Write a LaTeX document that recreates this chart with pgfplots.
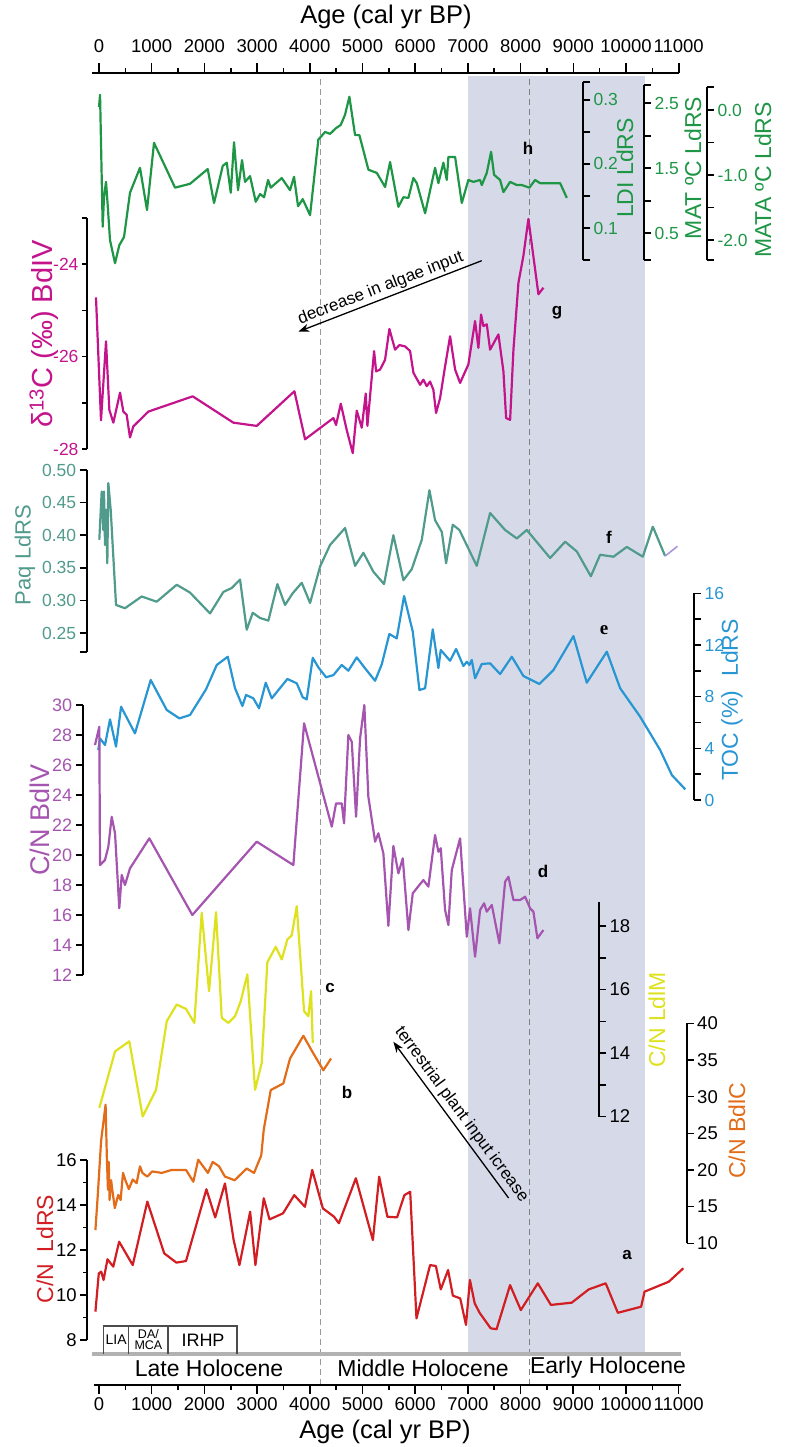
\documentclass[border=0pt]{standalone}
\usepackage{pgfplots}
\pgfplotsset{compat=1.18}
\usepackage{fontspec}
\setmainfont{Liberation Sans}
\newfontfamily\seriffont{Liberation Serif}
\usetikzlibrary{arrows.meta}

\definecolor{cgreen}{RGB}{30,150,70}
\definecolor{cmag}{RGB}{196,20,140}
\definecolor{cteal}{RGB}{80,155,140}
\definecolor{cblue}{RGB}{40,150,210}
\definecolor{cpurp}{RGB}{165,85,175}
\definecolor{cyell}{RGB}{222,226,30}
\definecolor{corng}{RGB}{226,108,24}
\definecolor{cred}{RGB}{210,30,35}
\definecolor{cshade}{RGB}{214,218,232}
\definecolor{clav}{RGB}{170,150,220}

\newcommand{\fs}[1]{\fontsize{#1}{#1}\selectfont}

\pgfplotsset{
  every axis/.append style={scale only axis, clip=false, enlargelimits=false},
  dat/.style={hide axis, xmin=0, xmax=11000, width=579.7pt, anchor=south west},
  sc/.style={width=1pt, xmin=0, xmax=1, axis x line=none,
     tick align=outside, major tick length=7pt, minor tick length=7pt,
     tick style={black, line width=1.6pt},
     axis line style={black, line width=2pt},
     yticklabel style={font=\fs{17.5}}},
  lsc/.style={sc, axis y line*=left, anchor=south west},
  rsc/.style={sc, axis y line*=right, anchor=south east},
  curve/.style={line width=2.2pt, line join=round, mark=none},
}

\begin{document}
\begin{tikzpicture}
\useasboundingbox (0pt,0pt) rectangle (787pt,-1447pt);

% background: shading and dashed lines
\begin{axis}[dat, at={(99pt,-1385pt)}, height=1312pt, ymin=-1385, ymax=-73]
\addplot[fill=cshade, draw=none] coordinates {(7000,-1354) (10360,-1354) (10360,-76) (7000,-76)} -- cycle;
\addplot[draw=black!40, dash pattern=on 6pt off 4pt, line width=1.4pt] coordinates {(4200,-1385) (4200,-77)};
\addplot[draw=black!50, dash pattern=on 6pt off 4pt, line width=1pt] coordinates {(8170,-1385) (8170,-77)};
\end{axis}

% top axis
\begin{axis}[at={(91.6pt,-73pt)}, anchor=north west, width=587.1pt, height=1pt,
  xmin=-140, xmax=11000, ymin=0, ymax=1, axis y line=none, axis x line*=top,
  scaled x ticks=false,
  xtick={0,1000,2000,3000,4000,5000,6000,7000,8000,9000,10000,11000},
  xticklabels={0,1000,2000,3000,4000,5000,6000,7000,8000,9000,10000,11000},
  minor xtick={500,1500,2500,3500,4500,5500,6500,7500,8500,9500,10500},
  tick align=outside, major tick length=10pt, minor tick length=5pt,
  tick style={black, line width=1.6pt}, axis line style={black, line width=2.2pt},
  xticklabel style={font=\fs{18.5}, anchor=center, yshift=17pt}]
\end{axis}

% bottom axis
\begin{axis}[at={(93.7pt,-1385pt)}, anchor=south west, width=587.6pt, height=1pt,
  xmin=-100, xmax=11050, ymin=0, ymax=1, axis y line=none, axis x line*=bottom,
  scaled x ticks=false,
  xtick={0,1000,2000,3000,4000,5000,6000,7000,8000,9000,10000,11000},
  xticklabels={0,1000,2000,3000,4000,5000,6000,7000,8000,9000,10000,11000},
  minor xtick={500,1500,2500,3500,4500,5500,6500,7500,8500,9500,10500},
  tick align=outside, major tick length=9pt, minor tick length=5pt,
  tick style={black, line width=1.6pt}, axis line style={black, line width=2.6pt},
  xticklabel style={font=\fs{18.5}, anchor=center, yshift=-10pt}]
\end{axis}

% ---------- h : green LDI ----------
\begin{axis}[dat, at={(99pt,-260pt)}, height=178pt, ymin=0.05, ymax=0.328]
\addplot[curve, cgreen] coordinates {
(0,0.289) (20,0.308) (70,0.102) (95,0.148) (133,0.172) (158,0.144) (209,0.081) (304,0.045)
(385,0.073) (475,0.086) (588,0.155) (778,0.194) (911,0.128) (1044,0.233) (1443,0.163)
(1727,0.169) (2063,0.192) (2183,0.139) (2348,0.197) (2424,0.202) (2500,0.155) (2562,0.234)
(2638,0.159) (2714,0.206) (2771,0.172) (2866,0.181) (2974,0.141) (3056,0.153) (3132,0.148)
(3208,0.175) (3259,0.163) (3468,0.178) (3625,0.159) (3701,0.180) (3777,0.134) (3866,0.145)
(4005,0.120) (4162,0.238) (4290,0.250) (4384,0.247) (4498,0.256) (4588,0.261) (4669,0.277)
(4751,0.305) (4859,0.245) (4941,0.245) (5112,0.191) (5271,0.186) (5429,0.164) (5523,0.203)
(5681,0.133) (5776,0.148) (5871,0.147) (5966,0.178) (6030,0.170) (6188,0.123) (6377,0.194)
(6440,0.170) (6535,0.202) (6599,0.175) (6630,0.211) (6757,0.211) (6884,0.139) (7009,0.175)
(7104,0.172) (7231,0.175) (7263,0.167) (7358,0.186) (7440,0.219) (7497,0.183) (7611,0.175)
(7674,0.156) (7801,0.172) (7928,0.167) (8023,0.167) (8167,0.163) (8275,0.175) (8370,0.170)
(8750,0.170) (8877,0.147)};
\end{axis}
\begin{axis}[rsc, at={(583pt,-260pt)}, height=178pt, ymin=0.05, ymax=0.328,
  ytick={0.1,0.2,0.3}, yticklabels={0.1,0.2,0.3}, minor ytick={0.05,0.15,0.25,0.328},
  yticklabel style={text=cgreen}]
\end{axis}
\begin{axis}[rsc, at={(644pt,-260pt)}, height=175pt, ymin=0.089, ymax=2.78,
  ytick={0.5,1.5,2.5}, yticklabels={0.5,1.5,2.5}, minor ytick={0.089,1.0,2.0,2.78},
  yticklabel style={text=cgreen}]
\end{axis}
\begin{axis}[rsc, at={(707pt,-260pt)}, height=173pt, ymin=-2.308, ymax=0.354,
  ytick={-2,-1,0}, yticklabels={-2.0,-1.0,0.0}, minor ytick={-2.308,-1.5,-0.5,0.354},
  yticklabel style={text=cgreen}]
\end{axis}

% ---------- g : magenta d13C ----------
\begin{axis}[dat, at={(99pt,-449pt)}, height=231pt, ymin=-28, ymax=-23]
\addplot[curve, cmag] coordinates {
(-57,-24.72) (38,-27.38) (133,-25.67) (196,-27.15) (272,-27.43) (399,-26.78) (462,-27.19)
(525,-27.26) (588,-27.75) (652,-27.51) (937,-27.19) (1778,-26.86) (2550,-27.43) (2993,-27.50)
(3708,-26.75) (3910,-27.79) (4448,-27.33) (4498,-27.48) (4588,-27.02) (4701,-27.59) (4815,-28.09)
(4891,-27.17) (4986,-27.54) (5062,-26.80) (5093,-27.50) (5220,-25.88) (5258,-26.32) (5334,-26.28)
(5428,-26.07) (5510,-25.40) (5618,-25.85) (5700,-25.75) (5808,-25.78) (5903,-25.88) (5966,-26.35)
(6093,-26.61) (6155,-26.50) (6220,-26.64) (6282,-26.54) (6345,-26.72) (6396,-27.22) (6472,-26.90)
(6567,-26.21) (6662,-25.56) (6757,-26.28) (6852,-26.57) (7009,-26.17) (7136,-25.23) (7199,-25.81)
(7250,-25.09) (7294,-25.34) (7358,-25.30) (7421,-25.85) (7579,-25.52) (7674,-26.32) (7725,-27.33)
(7801,-27.37) (7864,-25.85) (7959,-24.40) (8053,-23.82) (8148,-23.02) (8338,-24.65) (8433,-24.51)};
\end{axis}
\begin{axis}[lsc, at={(87pt,-449pt)}, height=231pt, ymin=-28, ymax=-23,
  major tick length=5pt, minor tick length=5pt,
  ytick={-28,-26,-24}, yticklabels={-28,-26,-24}, minor ytick={-27,-25,-23},
  yticklabel style={text=cmag}]
\end{axis}

% ---------- f : teal Paq ----------
\begin{axis}[dat, at={(99pt,-651.9pt)}, height=181.9pt, ymin=0.221, ymax=0.50]
\addplot[curve, cteal] coordinates {
(6,0.393) (51,0.467) (82,0.408) (95,0.467) (114,0.385) (133,0.439) (158,0.357) (177,0.480)
(222,0.439) (323,0.293) (493,0.288) (810,0.306) (1095,0.298) (1475,0.324) (1727,0.312)
(2107,0.280) (2360,0.313) (2519,0.319) (2676,0.332) (2803,0.255) (2917,0.281) (3056,0.273)
(3214,0.269) (3385,0.325) (3530,0.293) (3676,0.311) (3847,0.327) (4005,0.296) (4195,0.352)
(4384,0.385) (4669,0.411) (4859,0.353) (5017,0.373) (5206,0.344) (5409,0.325) (5586,0.400)
(5776,0.331) (5935,0.348) (6125,0.393) (6270,0.469) (6377,0.423) (6505,0.405) (6586,0.357)
(6713,0.416) (6839,0.408) (7168,0.353) (7421,0.434) (7706,0.408) (7928,0.395) (8117,0.408)
(8560,0.365) (8845,0.390) (9067,0.375) (9333,0.337) (9509,0.370) (9762,0.367) (10015,0.382)
(10319,0.367) (10509,0.413) (10743,0.368)};
\addplot[line width=1.6pt, clav] coordinates {(10743,0.368) (10976,0.383)};
\end{axis}
\begin{axis}[lsc, at={(86.7pt,-651.9pt)}, height=181.9pt, ymin=0.221, ymax=0.50,
  ytick={0.25,0.30,0.35,0.40,0.45,0.50}, yticklabels={0.25,0.30,0.35,0.40,0.45,0.50},
  minor ytick={0.221}, yticklabel style={text=cteal}]
\end{axis}

% ---------- e : blue TOC ----------
\begin{axis}[dat, at={(99pt,-800pt)}, height=206.7pt, ymin=0, ymax=16]
\addplot[curve, cblue] coordinates {
(-13,3.87) (19,4.77) (114,4.26) (209,6.24) (323,4.13) (418,7.22) (683,5.16) (981,9.29)
(1285,6.97) (1524,6.32) (1727,6.58) (2031,8.57) (2234,10.45) (2443,11.09) (2581,8.65)
(2721,7.28) (2790,8.13) (2929,7.87) (3037,7.10) (3164,9.08) (3278,7.87) (3575,9.37) (3753,9.03)
(3866,7.95) (3942,7.79) (4056,11.01) (4162,10.27) (4309,9.50) (4448,9.67) (4606,10.45)
(4732,10.01) (4891,11.04) (5049,10.19) (5239,9.23) (5365,10.50) (5510,12.85) (5650,12.51)
(5789,15.79) (5954,13.03) (6080,8.51) (6188,8.65) (6333,13.21) (6440,10.22) (6485,11.61)
(6662,10.78) (6776,11.69) (6915,10.37) (6979,10.70) (7028,10.45) (7074,10.84) (7136,9.42)
(7263,10.53) (7421,10.58) (7611,9.75) (7833,11.09) (8053,9.60) (8180,9.34) (8357,8.98)
(8623,10.06) (9003,12.69) (9256,9.08) (9636,11.48) (9889,8.65) (10268,6.45) (10648,3.87)
(10870,1.93) (11124,0.83)};
\end{axis}
\begin{axis}[rsc, at={(694pt,-800pt)}, height=206.7pt, ymin=0, ymax=16,
  ytick={0,4,8,12,16}, yticklabels={0,4,8,12,16}, minor ytick={2,6,10,14},
  yticklabel style={text=cblue}]
\end{axis}

% ---------- d : purple C/N BdlV ----------
\begin{axis}[dat, at={(99pt,-975pt)}, height=270pt, ymin=12, ymax=30]
\addplot[curve, cpurp] coordinates {
(-76,27.33) (6,28.55) (19,19.33) (114,19.67) (177,20.55) (241,22.55) (304,21.45) (385,16.45)
(431,18.67) (493,18.0) (588,19.11) (955,21.11) (1771,16.0) (2993,20.89) (3688,19.33)
(3891,28.78) (4417,21.89) (4498,23.44) (4606,23.44) (4650,22.11) (4732,28.0) (4796,27.55)
(4878,22.55) (4954,27.78) (5035,30.0) (5111,23.89) (5239,20.89) (5301,21.45) (5396,20.11)
(5491,15.27) (5586,20.6) (5681,18.78) (5764,19.78) (5871,15.0) (5954,17.45) (6155,18.33)
(6250,17.89) (6377,21.33) (6440,20.22) (6485,20.45) (6567,16.33) (6630,15.33) (6694,19.0)
(6852,21.11) (6979,14.55) (7041,16.45) (7136,13.22) (7231,16.33) (7307,16.78) (7358,16.22)
(7453,16.67) (7598,14.11) (7706,18.22) (7769,18.55) (7864,17.0) (7991,17.0) (8085,17.22)
(8180,16.45) (8243,16.22) (8319,14.45) (8433,15.0)};
\end{axis}
\begin{axis}[lsc, at={(82.7pt,-975pt)}, height=270pt, ymin=12, ymax=30,
  ytick={12,14,16,18,20,22,24,26,28,30}, yticklabels={12,14,16,18,20,22,24,26,28,30},
  yticklabel style={text=cpurp, font=\fs{18}}]
\end{axis}

% ---------- c : yellow C/N LdlM ----------
\begin{axis}[dat, at={(99pt,-1116.5pt)}, height=214.8pt, ymin=12, ymax=18.77]
\addplot[curve, cyell] coordinates {
(6,12.27) (304,14.05) (575,14.37) (829,12.0) (1082,12.84) (1285,15.0) (1475,15.53) (1651,15.39)
(1809,14.95) (1949,18.42) (2088,15.95) (2221,18.44) (2329,15.11) (2454,14.95) (2581,15.16)
(2689,15.63) (2815,16.48) (2961,12.84) (3088,13.69) (3194,16.86) (3354,17.35) (3468,16.95)
(3574,17.58) (3657,17.71) (3752,18.63) (3891,15.32) (3972,15.16) (4024,15.95) (4056,14.32)};
\end{axis}
\begin{axis}[rsc, at={(599pt,-1116.5pt)}, height=214.8pt, ymin=12, ymax=18.77,
  ytick={12,14,16,18}, yticklabels={12,14,16,18}, minor ytick={13,15,17},
  yticklabel style={font=\fs{18.5}}]
\end{axis}

% ---------- b : orange C/N BdlC ----------
\begin{axis}[dat, at={(99pt,-1243.3pt)}, height=220pt, ymin=10, ymax=40]
\addplot[curve, corng] coordinates {
(-68,11.8) (-23,16.6) (40,24.0) (125,28.9) (150,21.4) (170,17.3) (185,21.1) (200,15.9)
(230,18.6) (252,17.3) (300,14.8) (364,16.6) (410,15.9) (456,19.6) (501,18.6) (566,17.4)
(640,18.7) (714,18.2) (778,20.5) (824,19.6) (917,19.1) (1008,19.8) (1192,19.6) (1376,20.0)
(1651,20.0) (1790,18.4) (1883,21.4) (2067,19.6) (2158,21.1) (2278,20.5) (2390,19.1)
(2574,18.6) (2803,20.2) (2942,19.6) (3079,22.0) (3126,25.5) (3259,30.9) (3498,31.8)
(3625,35.2) (3878,38.3) (4067,35.9) (4257,33.6) (4403,35.2)};
\end{axis}
\begin{axis}[rsc, at={(686.7pt,-1243.3pt)}, height=220pt, ymin=10, ymax=40,
  ytick={10,15,20,25,30,35,40}, yticklabels={10,15,20,25,30,35,40},
  yticklabel style={font=\fs{18.5}}]
\end{axis}

% ---------- a : red C/N LdRS ----------
\begin{axis}[dat, at={(99pt,-1340pt)}, height=180pt, ymin=8, ymax=16]
\addplot[curve, cred] coordinates {
(-68,9.26) (-4,10.96) (42,11.04) (87,10.67) (161,11.59) (271,11.26) (382,12.37) (640,11.33)
(917,14.15) (1238,11.85) (1469,11.44) (1651,11.51) (2038,14.70) (2205,13.45) (2390,14.96)
(2555,12.44) (2665,11.33) (2868,13.70) (2968,11.33) (3126,14.30) (3236,13.36) (3492,13.63)
(3705,14.44) (3908,13.92) (4046,15.56) (4248,13.85) (4460,13.48) (4552,13.19) (4874,15.19)
(5197,12.44) (5316,15.26) (5472,13.48) (5656,13.45) (5795,14.44) (5905,14.59) (6024,8.96)
(6282,11.33) (6392,11.29) (6485,10.25) (6624,11.11) (6715,9.97) (6854,9.85) (6964,8.67)
(7038,10.67) (7129,9.63) (7222,9.21) (7432,8.52) (7544,8.48) (7800,10.44) (8004,9.33)
(8326,10.52) (8575,9.56) (8970,9.66) (9293,10.25) (9615,10.52) (9845,9.21) (10287,9.48)
(10352,10.15) (10811,10.59) (11088,11.19)};
\end{axis}
\begin{axis}[lsc, at={(87.3pt,-1340pt)}, height=180pt, ymin=8, ymax=16,
  minor tick length=4pt,
  ytick={8,10,12,14,16}, yticklabels={8,10,12,14,16}, minor ytick={9,11,13,15},
  yticklabel style={font=\fs{18.5}}]
\end{axis}

% ---------- titles and labels ----------
\node[font=\fs{25.5}] at (386pt,-17pt) {Age (cal yr BP)};
\node[font=\fs{25.5}] at (385pt,-1432pt) {Age (cal yr BP)};

\node[rotate=90, text=cgreen, font=\fs{23}] at (625pt,-168pt) {LDI LdRS};
\node[rotate=90, text=cgreen, font=\fs{23}] at (693pt,-168pt) {MAT ºC LdRS};
\node[rotate=90, text=cgreen, font=\fs{23}] at (763pt,-180pt) {MATA ºC LdRS};
\node[rotate=90, text=cmag, font=\fs{29}] at (44pt,-334pt) {δ\textsuperscript{13}C (‰) BdIV};
\node[rotate=90, text=cteal, font=\fs{22}] at (25pt,-555pt) {Paq LdRS};
\node[rotate=90, text=cblue, font=\fs{23}] at (732pt,-700pt) {TOC (\%)\hspace{0.6em}LdRS};
\node[rotate=90, text=cpurp, font=\fs{27}] at (40pt,-820pt) {C/N BdlV};
\node[rotate=90, text=cyell, font=\fs{23}] at (657pt,-1020pt) {C/N LdlM};
\node[rotate=90, text=corng, font=\fs{23}] at (737pt,-1131pt) {C/N BdlC};
\node[rotate=90, text=cred, font=\fs{23}] at (45pt,-1249pt) {C/N\hspace{0.5em}LdRS};

\node[font=\fs{17}\bfseries] at (528pt,-148pt) {h};
\node[font=\fs{17}\bfseries] at (557pt,-313pt) {g};
\node[font=\fs{17}\bfseries] at (609pt,-537pt) {f};
\node[font=\seriffont\fs{19}\bfseries] at (604pt,-630pt) {e};
\node[font=\fs{17}\bfseries] at (543pt,-871pt) {d};
\node[font=\fs{17}\bfseries] at (330pt,-988pt) {c};
\node[font=\fs{17}\bfseries] at (347pt,-1092pt) {b};
\node[font=\fs{17}\bfseries] at (627pt,-1255pt) {a};

% arrows
\draw[line width=1.3pt, {Stealth[length=11pt,width=8pt]}-] (298.3pt,-331.7pt) --
  node[sloped, above, pos=0.47, font=\fs{17}, inner sep=2pt] {decrease in algae input} (481.7pt,-260.7pt);
\draw[line width=1.3pt, {Stealth[length=11pt,width=8pt]}-] (393.3pt,-1041.7pt) --
  node[sloped, above, pos=0.51, font=\fs{17}, inner sep=3pt] {terrestrial plant input icrease} (508.6pt,-1198pt);

% bottom band
\draw[line width=3.5pt, black!30] (92pt,-1354pt) -- (681pt,-1354pt);
\draw[line width=1.2pt, black!70] (103.6pt,-1354pt) -- (103.6pt,-1326pt) -- (237pt,-1326pt) -- (237pt,-1354pt);
\draw[line width=1.2pt, black!70] (128.8pt,-1326pt) -- (128.8pt,-1354pt);
\draw[line width=1.2pt, black!70] (168pt,-1326pt) -- (168pt,-1354pt);
\node[font=\fs{14}] at (116.2pt,-1340pt) {LIA};
\node[font=\fs{12.5}, align=center, inner sep=0pt] at (148.4pt,-1340pt) {DA/\\[-1.5pt]MCA};
\node[font=\fs{18}] at (203pt,-1340pt) {IRHP};
\node[font=\fs{23}] at (209pt,-1368pt) {Late Holocene};
\node[font=\fs{23}] at (423pt,-1368pt) {Middle Holocene};
\node[font=\fs{23}] at (608pt,-1368pt) {Early Holocene};
\end{tikzpicture}
\end{document}
